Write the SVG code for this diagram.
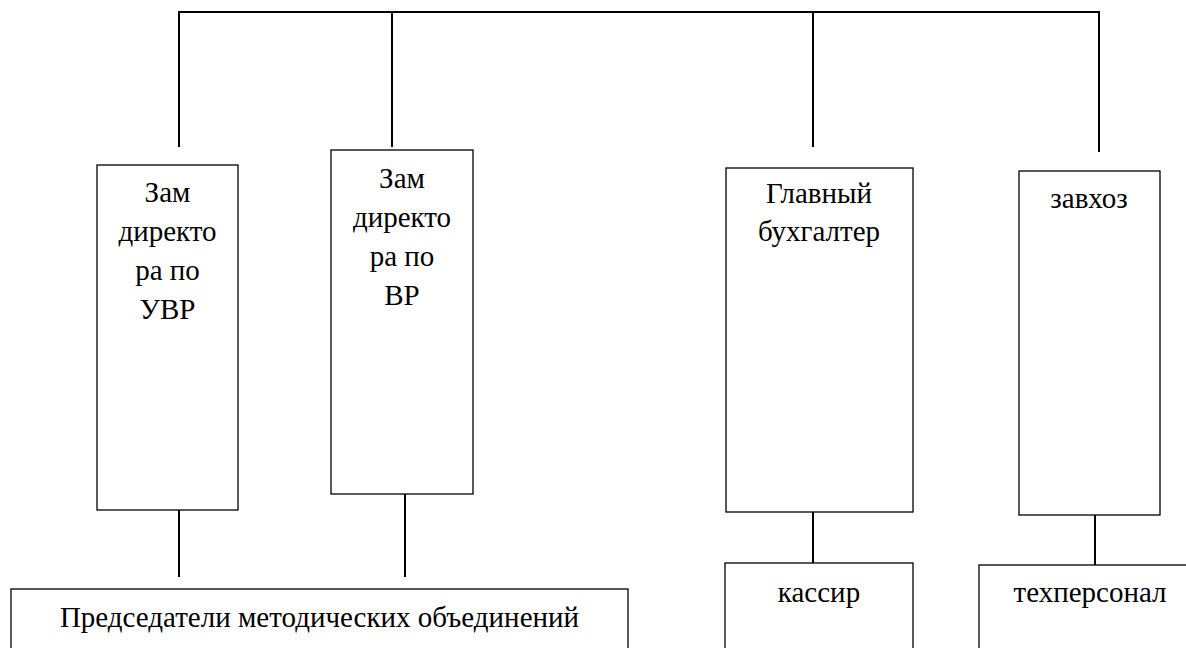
<svg xmlns="http://www.w3.org/2000/svg" width="1186" height="648" viewBox="0 0 1186 648">
<style>
.box{fill:#fff;stroke:#000;stroke-width:1.3}
.conn{stroke:#000;stroke-width:2;fill:none}
.t{font-family:'Liberation Serif','Times New Roman','DejaVu Serif',serif;font-size:29px;fill:#000;text-anchor:middle}
</style>
<rect width="1186" height="648" fill="#fff"/>
<g id="connectors">
<path class="conn" d="M179 147V12H1099V152"/>
<path class="conn" d="M392 12V147"/>
<path class="conn" d="M813 12V147"/>
<path class="conn" d="M179 510V577"/>
<path class="conn" d="M405 494V577"/>
<path class="conn" d="M813 512V563"/>
<path class="conn" d="M1095 515V565"/>
</g>
<g id="n1" class="t" font-family="Liberation Serif, serif"><rect class="box" x="97" y="165" width="141" height="345"/>
<text x="167.5" y="202">Зам</text><text x="167.5" y="241">директо</text><text x="167.5" y="280">ра по</text><text x="167.5" y="319">УВР</text></g>
<g id="n2" class="t" font-family="Liberation Serif, serif"><rect class="box" x="331" y="150" width="142" height="344"/>
<text x="402" y="188">Зам</text><text x="402" y="227">директо</text><text x="402" y="266">ра по</text><text x="402" y="305">ВР</text></g>
<g id="n3" class="t" font-family="Liberation Serif, serif"><rect class="box" x="726" y="168" width="187" height="344"/>
<text x="819" y="203">Главный</text><text x="819" y="241">бухгалтер</text></g>
<g id="n4" class="t" font-family="Liberation Serif, serif"><rect class="box" x="1019" y="171" width="141" height="344"/>
<text x="1089" y="208">завхоз</text></g>
<g id="n5" class="t" font-family="Liberation Serif, serif"><rect class="box" x="11" y="589" width="617" height="80"/>
<text x="319.5" y="627">Председатели методических объединений</text></g>
<g id="n6" class="t" font-family="Liberation Serif, serif"><rect class="box" x="725" y="563" width="188" height="100"/>
<text x="819" y="602">кассир</text></g>
<g id="n7" class="t" font-family="Liberation Serif, serif"><rect class="box" x="979" y="565" width="220" height="100"/>
<text x="1090" y="602">техперсонал</text></g>
</svg>
